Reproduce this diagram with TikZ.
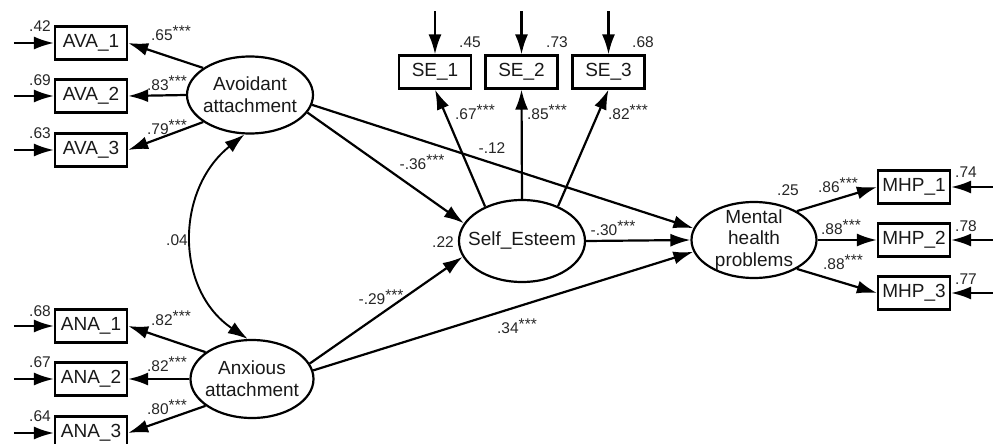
\documentclass[tikz,border=0pt]{standalone}
\usepackage{fontspec}
\setmainfont{Liberation Sans}
\usetikzlibrary{shapes.geometric,arrows.meta}
\newcommand\stars{\raisebox{4pt}{\fontsize{15.5}{15.5}\selectfont ***}}

\begin{document}
\begin{tikzpicture}[x=1pt,y=-1pt,
  obs/.style={draw=black, line width=2.2pt, minimum width=72pt, minimum height=33pt,
    inner sep=0pt, text=black!90, font=\fontsize{19}{22}\selectfont},
  lat/.style={draw=black, ellipse, line width=2.2pt, inner sep=0pt},
  lattext/.style={align=center, text=black!90, inner sep=0pt,
    font=\fontsize{19}{21.7}\selectfont},
  link/.style={line width=2.2pt, -{Latex[length=20pt,width=13pt]}},
  cov/.style={line width=1.9pt, {Latex[length=20pt,width=13pt]}-{Latex[length=20pt,width=13pt]}},
  coef/.style={inner sep=0pt, text=black!85, font=\fontsize{15.5}{17}\selectfont},
]
\useasboundingbox (0,0) rectangle (993,444);

% latent variables
\node[lat, minimum width=126pt, minimum height=77pt,
  label={[lattext]center:Avoidant\\attachment}] (avo) at (250,95) {};
\node[lat, minimum width=123pt, minimum height=78pt,
  label={[lattext]center:Anxious\\attachment}] (anx) at (252,379) {};
\node[lat, minimum width=126pt, minimum height=82pt,
  label={[lattext]center:Self\_Esteem}] (se) at (522,241) {};
\node[lat, minimum width=125pt, minimum height=76pt,
  label={[lattext]center:Mental\\health\\problems}] (mhp) at (754,240) {};

% indicators
\node[obs] (ava1) at (91,43) {AVA\_1};
\node[obs] (ava2) at (91,96) {AVA\_2};
\node[obs] (ava3) at (91,150) {AVA\_3};
\node[obs] (ana1) at (91,326) {ANA\_1};
\node[obs] (ana2) at (91,379) {ANA\_2};
\node[obs] (ana3) at (91,433) {ANA\_3};
\node[obs] (se1) at (435,72) {SE\_1};
\node[obs] (se2) at (521.5,72) {SE\_2};
\node[obs] (se3) at (608.5,72) {SE\_3};
\node[obs] (mhp1) at (914,187) {MHP\_1};
\node[obs] (mhp2) at (914,240) {MHP\_2};
\node[obs] (mhp3) at (914,293) {MHP\_3};

% error terms
\foreach \b in {ava1,ava2,ava3,ana1,ana2,ana3}{
  \coordinate (e\b) at ([xshift=-40pt]\b.west);
  \draw[link] (e\b) -- (\b.west);
}
\foreach \b in {se1,se2,se3}{
  \coordinate (e\b) at ([yshift=43pt]\b.north);
  \draw[link] (e\b) -- (\b.north);
}
\foreach \b in {mhp1,mhp2,mhp3}{
  \coordinate (e\b) at ([xshift=44pt]\b.east);
  \draw[link] (e\b) -- (\b.east);
}

% measurement paths
\draw[link] (avo.150) -- (ava1.east);
\draw[link] (avo.west) -- (ava2.east);
\draw[link] (avo.210) -- (ava3.east);
\draw[link] (anx.150) -- (ana1.east);
\draw[link] (anx.west) -- (ana2.east);
\draw[link] (anx.210) -- (ana3.east);
\draw[link] (se.137) -- (se1.south);
\draw[link] (se.north) -- (se2.south);
\draw[link] (se.44) -- (se3.south);
\draw[link] (mhp.34) -- (mhp1.west);
\draw[link] (mhp.east) -- (mhp2.west);
\draw[link] (mhp.-34) -- (mhp3.west);

% structural paths
\draw[link] (avo.-17) -- (se.163);
\draw[link] (avo.-9) -- (mhp.169);
\draw[link] (anx.15) -- (se.195);
\draw[link] (anx.8) -- (mhp.191);
\draw[link] (se.east) -- (mhp.west);

% covariance
\draw[cov] (avo.262) .. controls (175,190) and (175,290) .. (anx.96);

% residual variances / R^2
\node[coef] (vava1) at (40,26) {.42};
\node[coef] (vava2) at (40,80) {.69};
\node[coef] (vava3) at (40,133) {.63};
\node[coef] (vana1) at (40,311) {.68};
\node[coef] (vana2) at (40,362) {.67};
\node[coef] (vana3) at (40,416) {.64};
\node[coef] (vse1) at (470,42) {.45};
\node[coef] (vse2) at (557,42) {.73};
\node[coef] (vse3) at (643,42) {.68};
\node[coef] (vmhp1) at (966,172) {.74};
\node[coef] (vmhp2) at (966,226) {.78};
\node[coef] (vmhp3) at (966,279) {.77};
\node[coef] (vse) at (443,242) {.22};
\node[coef] (vmhp) at (788,190) {.25};

% loadings
\node[coef] (lava1) at (171,33) {.65\stars};
\node[coef] (lava2) at (167,83) {.83\stars};
\node[coef] (lava3) at (167,127) {.79\stars};
\node[coef] (lana1) at (171,318) {.82\stars};
\node[coef] (lana2) at (167,364) {.82\stars};
\node[coef] (lana3) at (167,407) {.80\stars};
\node[coef] (lse1) at (475,112) {.67\stars};
\node[coef] (lse2) at (547,112) {.85\stars};
\node[coef] (lse3) at (628,112) {.82\stars};
\node[coef] (lmhp1) at (838,185) {.86\stars};
\node[coef] (lmhp2) at (841,227) {.88\stars};
\node[coef] (lmhp3) at (843,262) {.88\stars};

% structural coefficients
\node[coef] (bavose) at (422,162) {-.36\stars};
\node[coef] (bavomhp) at (492,148) {-.12};
\node[coef] (bsemhp) at (613,228) {-.30\stars};
\node[coef] (banxse) at (381,297) {-.29\stars};
\node[coef] (banxmhp) at (517,326) {.34\stars};
\node[coef] (cavoanx) at (177,240) {.04};
\end{tikzpicture}
\end{document}
